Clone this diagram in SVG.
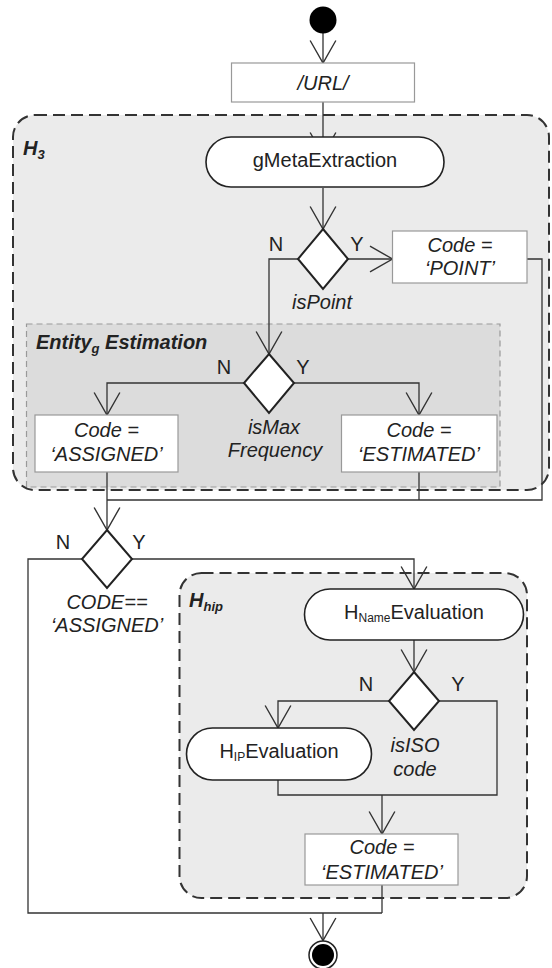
<svg xmlns="http://www.w3.org/2000/svg" width="552" height="968" viewBox="0 0 552 968">
<style>
text{font-family:"Liberation Sans",Arial,sans-serif;font-size:20px;fill:#222}
.it{font-style:italic}
.bi{font-style:italic;font-weight:bold}
.mid{text-anchor:middle}
.region{fill:#ebebeb;stroke:#333;stroke-width:2;stroke-dasharray:12 6}
.sub{fill:#dcdcdc;stroke:#999;stroke-width:1.2;stroke-dasharray:6 4}
.cap{fill:#fff;stroke:#222;stroke-width:1.6}
.box{fill:#fff;stroke:#999;stroke-width:1.2}
.dia{fill:#fff;stroke:#222;stroke-width:2}
.con{fill:none;stroke:#333;stroke-width:1.3}
</style>
<defs>
<marker id="arr" markerUnits="userSpaceOnUse" markerWidth="30" markerHeight="30" viewBox="-24 -14 26 28" refX="0" refY="0" orient="auto">
<path d="M-21,-12 L0,0 L-21,12" fill="none" stroke="#333" stroke-width="1.3"/>
</marker>
</defs>

<g id="H3">
<rect class="region" x="13" y="115" width="536" height="375" rx="22"/>
<text class="bi" x="23" y="155">H<tspan font-size="13" dy="4">3</tspan></text>
</g>
<g id="EntityEstimation">
<rect class="sub" x="26.5" y="324" width="473.5" height="163"/>
<text class="bi" x="36" y="349">Entity<tspan font-size="13" dy="4">g</tspan><tspan dy="-4"> Estimation</tspan></text>
</g>
<g id="Hhip">
<rect class="region" x="179.5" y="573" width="347.5" height="325" rx="22"/>
<text class="bi" x="189" y="607">H<tspan font-size="13" dy="4">hip</tspan></text>
</g>

<g id="connectors">
<path class="con" d="M323 33 V63" marker-end="url(#arr)"/>
<path class="con" d="M323 102 V155" marker-end="url(#arr)"/>
<path class="con" d="M323 188 V229" marker-end="url(#arr)"/>
<path class="con" d="M348 259 H392.5" marker-end="url(#arr)"/>
<path class="con" d="M298 259 H269 V354" marker-end="url(#arr)"/>
<path class="con" d="M527 259 H542 V500 H107"/>
<path class="con" d="M244 383 H107 V415" marker-end="url(#arr)"/>
<path class="con" d="M294 383 H419 V415" marker-end="url(#arr)"/>
<path class="con" d="M107 472 V530" marker-end="url(#arr)"/>
<path class="con" d="M419 472 V500"/>
<path class="con" d="M82 559 H28 V913 H382"/>
<path class="con" d="M132 559 H414 V589" marker-end="url(#arr)"/>
<path class="con" d="M414 640 V672" marker-end="url(#arr)"/>
<path class="con" d="M389 701 H278 V728" marker-end="url(#arr)"/>
<path class="con" d="M278 780 V795 H497 V701 H439"/>
<path class="con" d="M382 795 V834" marker-end="url(#arr)"/>
<path class="con" d="M382 885 V913"/>
<path class="con" d="M323 913 V940.5" marker-end="url(#arr)"/>
</g>

<g id="start"><circle cx="323" cy="20" r="13.5" fill="#000"/></g>
<g id="url">
<rect class="box" x="231.5" y="63" width="183" height="39"/>
<text class="it mid" x="323" y="90">/URL/</text>
</g>
<g id="gMetaExtraction">
<rect class="cap" x="206" y="137" width="238" height="50" rx="25"/>
<text class="mid" x="325" y="167">gMetaExtraction</text>
</g>
<g id="isPoint">
<polygon class="dia" points="323,229 348,259 323,289 298,259"/>
<text x="276" y="251" class="mid">N</text>
<text x="357" y="251" class="mid">Y</text>
<text class="it mid" x="322" y="309">isPoint</text>
</g>
<g id="codePoint">
<rect class="box" x="392.5" y="231" width="134.5" height="52"/>
<text class="it mid" x="460" y="252">Code =</text>
<text class="it mid" x="460" y="275">&#8216;POINT&#8217;</text>
</g>
<g id="isMaxFrequency">
<polygon class="dia" points="269,354 294,383 269,413 244,383"/>
<text x="224" y="374" class="mid">N</text>
<text x="303" y="374" class="mid">Y</text>
<text class="it mid" x="274" y="434">isMax</text>
<text class="it mid" x="275" y="457">Frequency</text>
</g>
<g id="codeAssigned">
<rect class="box" x="35" y="415" width="143" height="57"/>
<text class="it mid" x="106.5" y="437">Code =</text>
<text class="it mid" x="106.5" y="461">&#8216;ASSIGNED&#8217;</text>
</g>
<g id="codeEstimated1">
<rect class="box" x="341.5" y="415" width="155.5" height="57"/>
<text class="it mid" x="419" y="437">Code =</text>
<text class="it mid" x="419" y="461">&#8216;ESTIMATED&#8217;</text>
</g>
<g id="isAssigned">
<polygon class="dia" points="107,530 132,559 107,588 82,559"/>
<text x="63" y="549" class="mid">N</text>
<text x="139" y="549" class="mid">Y</text>
<text class="it mid" x="107" y="609">CODE==</text>
<text class="it mid" x="107" y="632">&#8216;ASSIGNED&#8217;</text>
</g>
<g id="HNameEvaluation">
<rect class="cap" x="304.5" y="589" width="219" height="51" rx="25.5"/>
<text class="mid" x="414" y="619">H<tspan font-size="12" dy="3">Name</tspan><tspan dy="-3">Evaluation</tspan></text>
</g>
<g id="isISOcode">
<polygon class="dia" points="414,672 439,701 414,730 389,701"/>
<text x="366" y="691" class="mid">N</text>
<text x="458" y="691" class="mid">Y</text>
<text class="it mid" x="415" y="752">isISO</text>
<text class="it mid" x="415" y="776">code</text>
</g>
<g id="HIPEvaluation">
<rect class="cap" x="186.5" y="728" width="185" height="52" rx="26"/>
<text class="mid" x="279" y="758">H<tspan font-size="12" dy="3">IP</tspan><tspan dy="-3">Evaluation</tspan></text>
</g>
<g id="codeEstimated2">
<rect class="box" x="305" y="834" width="153" height="51"/>
<text class="it mid" x="382" y="854">Code =</text>
<text class="it mid" x="382" y="879">&#8216;ESTIMATED&#8217;</text>
</g>
<g id="end">
<circle cx="323" cy="955" r="14" fill="#fff" stroke="#222" stroke-width="1.5"/>
<circle cx="323" cy="955" r="11" fill="#000"/>
</g>
</svg>
